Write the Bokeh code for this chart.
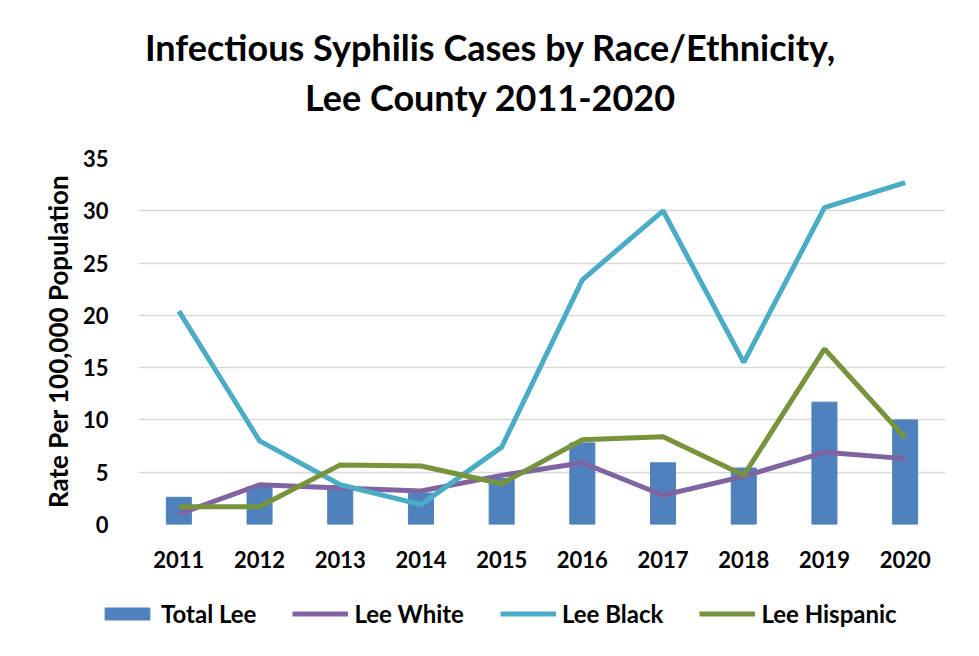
from bokeh.plotting import figure
from bokeh.models import Legend, LegendItem, Range1d, FixedTicker, ColumnDataSource, Label
from bokeh.layouts import column
from bokeh.embed import file_html
from bokeh.resources import INLINE

years = [2011, 2012, 2013, 2014, 2015, 2016, 2017, 2018, 2019, 2020]
total_lee = [2.6, 3.6, 3.7, 3.0, 4.4, 7.8, 5.9, 5.4, 11.7, 10.0]
lee_white = [1.0, 3.8, 3.5, 3.2, 4.7, 5.9, 2.8, 4.6, 6.9, 6.3]
lee_black = [20.4, 8.0, 3.8, 1.9, 7.4, 23.4, 30.0, 15.5, 30.3, 32.7]
lee_hispanic = [1.7, 1.7, 5.7, 5.6, 3.9, 8.1, 8.4, 4.7, 16.8, 8.3]
y_ticks = [0, 5, 10, 15, 20, 25, 30, 35]
title_lines = ["Infectious Syphilis Cases by Race/Ethnicity,", "Lee County 2011-2020"]
series_names = ["Total Lee", "Lee White", "Lee Black", "Lee Hispanic"]
colors = ["#4F81BD", "#8064A2", "#4BACC6", "#77933C"]

FONT = "Lato"
W = 971

src = ColumnDataSource(dict(x=years, total=total_lee, white=lee_white,
                            black=lee_black, hisp=lee_hispanic))

# ---- title strip ----
p0 = figure(width=W, height=140, output_backend="svg", toolbar_location=None,
            x_range=Range1d(0, W), y_range=Range1d(0, 140),
            x_axis_location=None, y_axis_location=None,
            min_border=0, min_border_left=0, min_border_right=0,
            min_border_top=0, min_border_bottom=0)
p0.frame_align = False
p0.title = None
p0.outline_line_color = None
p0.grid.grid_line_color = None
for txt, yv in zip(title_lines, [94, 44]):
    p0.add_layout(Label(x=490, y=yv, text=txt, text_align="center",
                        text_baseline="middle", text_font=FONT,
                        text_font_style="bold", text_font_size="36px",
                        text_color="black"))

# ---- main chart ----
p = figure(width=W, height=434, output_backend="svg", toolbar_location=None,
           x_range=Range1d(2010.5, 2020.5), y_range=Range1d(0, 35),
           min_border_left=138, min_border_right=26, min_border_top=18,
           min_border_bottom=50)
p.title = None
p.outline_line_color = None
p.background_fill_color = "white"
p.border_fill_color = "white"

p.xgrid.grid_line_color = None
p.ygrid.grid_line_color = "#D9D9D9"
p.ygrid.grid_line_width = 1.5

p.yaxis.ticker = FixedTicker(ticks=y_ticks)
p.xaxis.ticker = FixedTicker(ticks=years)
for ax in (p.xaxis, p.yaxis):
    ax.axis_line_color = None
    ax.major_tick_line_color = None
    ax.minor_tick_line_color = None
    ax.major_label_text_font = FONT
    ax.major_label_text_font_style = "bold"
    ax.major_label_text_font_size = "22px"
    ax.major_label_text_color = "black"
p.xaxis.major_label_standoff = 20
p.yaxis.major_label_standoff = 24
p.yaxis.axis_label = "Rate Per 100,000 Population"
p.yaxis.axis_label_text_font = FONT
p.yaxis.axis_label_text_font_style = "bold"
p.yaxis.axis_label_text_font_size = "26px"
p.yaxis.axis_label_text_color = "black"
p.yaxis.axis_label_standoff = 6

p.vbar(x="x", top="total", width=0.31, source=src, color=colors[0])
p.line("x", "white", source=src, line_color=colors[1], line_width=5)
p.line("x", "black", source=src, line_color=colors[2], line_width=5)
p.line("x", "hisp", source=src, line_color=colors[3], line_width=5)

# ---- legend strip (same series, outside this strip's visible range) ----
p2 = figure(width=W, height=66, output_backend="svg", toolbar_location=None,
            x_range=Range1d(0, 1), y_range=Range1d(0, 1),
            x_axis_location=None, y_axis_location=None,
            min_border=0, min_border_left=0, min_border_right=0,
            min_border_top=0, min_border_bottom=0)
p2.frame_align = False
p2.title = None
p2.outline_line_color = None
p2.grid.grid_line_color = None
r0 = p2.vbar(x="x", top="total", width=0.3, source=src, color=colors[0])
r1 = p2.line("x", "white", source=src, line_color=colors[1], line_width=5)
r2 = p2.line("x", "black", source=src, line_color=colors[2], line_width=5)
r3 = p2.line("x", "hisp", source=src, line_color=colors[3], line_width=5)
legend = Legend(items=[LegendItem(label=n, renderers=[r])
                       for n, r in zip(series_names, [r0, r1, r2, r3])],
                orientation="horizontal", location=(99, 12),
                label_text_font=FONT, label_text_font_style="bold",
                label_text_font_size="24px", label_text_color="black",
                glyph_width=56, glyph_height=15, label_standoff=6, spacing=36,
                padding=0, margin=0, border_line_color=None,
                background_fill_alpha=0)
p2.add_layout(legend, "center")

open("out.html", "w").write(file_html(column(p0, p, p2, spacing=0), INLINE))
